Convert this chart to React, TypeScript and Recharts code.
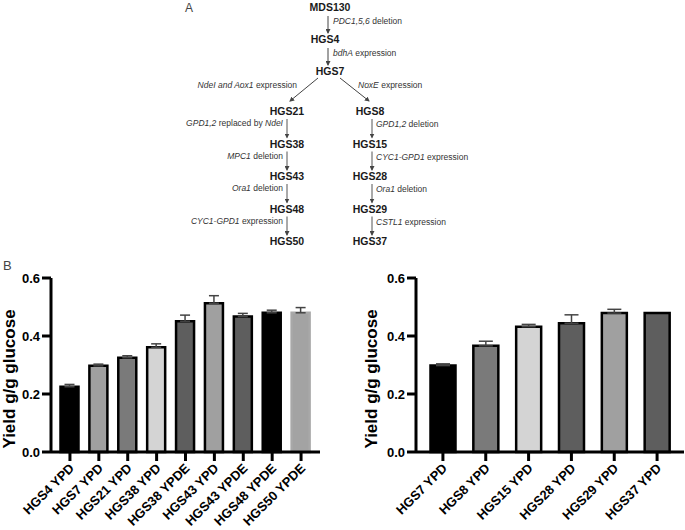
import React from 'react';
import { BarChart, Bar, XAxis, YAxis, Cell, ErrorBar } from 'recharts';

// panel B, left
const leftCats = ['HGS4 YPD', 'HGS7 YPD', 'HGS21 YPD', 'HGS38 YPD', 'HGS38 YPDE', 'HGS43 YPD', 'HGS43 YPDE', 'HGS48 YPDE', 'HGS50 YPDE'];
const leftYield = [0.225, 0.297, 0.325, 0.361, 0.451, 0.513, 0.467, 0.48, 0.48];
const leftErr = [0.008, 0.006, 0.007, 0.012, 0.021, 0.026, 0.011, 0.009, 0.018];
const leftFill = ['#000000', '#a0a0a0', '#7a7a7a', '#d4d4d4', '#5e5e5e', '#a0a0a0', '#5e5e5e', '#000000', '#a3a3a3'];
const leftStroke = ['#000', '#000', '#000', '#000', '#000', '#000', '#000', '#000', '#a8a8a8'];

// panel B, right
const rightCats = ['HGS7 YPD', 'HGS8 YPD', 'HGS15 YPD', 'HGS28 YPD', 'HGS29 YPD', 'HGS37 YPD'];
const rightYield = [0.298, 0.366, 0.432, 0.444, 0.479, 0.479];
const rightErr = [0.006, 0.016, 0.008, 0.029, 0.013, 0];
const rightFill = ['#000000', '#7a7a7a', '#d4d4d4', '#5e5e5e', '#a0a0a0', '#5e5e5e'];

const yTicks = [0, 0.2, 0.4, 0.6];

// panel A, strain lineage
const topChain = ['MDS130', 'HGS4', 'HGS7'];
const topMods = [
  [['PDC1,5,6', true], [' deletion', false]],
  [['bdhA', true], [' expression', false]],
];
const branchMods = [
  [['NdeI and Aox1', true], [' expression', false]],
  [['NoxE', true], [' expression', false]],
];
const leftChain = ['HGS21', 'HGS38', 'HGS43', 'HGS48', 'HGS50'];
const leftMods = [
  [['GPD1,2', true], [' replaced by ', false], ['NdeI', true]],
  [['MPC1', true], [' deletion', false]],
  [['Ora1', true], [' deletion', false]],
  [['CYC1-GPD1', true], [' expression', false]],
];
const rightChain = ['HGS8', 'HGS15', 'HGS28', 'HGS29', 'HGS37'];
const rightMods = [
  [['GPD1,2', true], [' deletion', false]],
  [['CYC1-GPD1', true], [' expression', false]],
  [['Ora1', true], [' deletion', false]],
  [['CSTL1', true], [' expression', false]],
];

const FONT = '"Liberation Sans", Arial, sans-serif';

function Mod({ parts, x, y, anchor }: any) {
  return (
    <text x={x} y={y} textAnchor={anchor} fontSize={8.5} fill="#333" fontFamily={FONT}>
      {parts.map((p: any, i: number) => (
        <tspan key={i} fontStyle={p[1] ? 'italic' : 'normal'}>{p[0]}</tspan>
      ))}
    </text>
  );
}

function Node({ label, x, y }: any) {
  return (
    <text x={x} y={y} textAnchor="middle" fontSize={10.5} fontWeight="bold" fill="#1a1a1a" fontFamily={FONT}>
      {label}
    </text>
  );
}

function Lineage() {
  const topX = 330;
  const topY = (i: number) => 11 + i * 32;
  const colY = (i: number) => 115 + i * 32.5;
  const lx = 287;
  const rx = 371;
  return (
    <svg width={685} height={250} style={{ position: 'absolute', left: 0, top: 0 }}>
      <defs>
        <marker id="ah" markerWidth="5" markerHeight="5" refX="4" refY="2.5" orient="auto" markerUnits="userSpaceOnUse">
          <path d="M0,0 L5,2.5 L0,5 z" fill="#444" />
        </marker>
      </defs>
      <text x={185} y={12} fontSize={12} fill="#444" fontFamily={FONT}>A</text>
      {topChain.map((s, i) => <Node key={s} label={s} x={topX + (i === 1 ? -5 : 0)} y={topY(i)} />)}
      {topMods.map((m, i) => (
        <g key={i}>
          <line x1={topX - 2} y1={topY(i) + 5} x2={topX - 2} y2={topY(i + 1) - 10} stroke="#444" strokeWidth={1} markerEnd="url(#ah)" />
          <Mod parts={m} x={topX + 3} y={topY(i) + 13} anchor="start" />
        </g>
      ))}
      <line x1={topX - 12} y1={78} x2={lx + 3} y2={101} stroke="#444" strokeWidth={1} markerEnd="url(#ah)" />
      <line x1={topX + 10} y1={78} x2={rx - 2} y2={101} stroke="#444" strokeWidth={1} markerEnd="url(#ah)" />
      <Mod parts={branchMods[0]} x={297} y={88} anchor="end" />
      <Mod parts={branchMods[1]} x={358} y={88} anchor="start" />
      {leftChain.map((s, i) => <Node key={s} label={s} x={lx} y={colY(i)} />)}
      {leftMods.map((m, i) => (
        <g key={i}>
          <line x1={lx} y1={colY(i) + 4} x2={lx} y2={colY(i + 1) - 10} stroke="#555" strokeWidth={1} markerEnd="url(#ah)" />
          <Mod parts={m} x={lx - 4} y={colY(i) + 11} anchor="end" />
        </g>
      ))}
      {rightChain.map((s, i) => <Node key={s} label={s} x={rx - 1} y={colY(i)} />)}
      {rightMods.map((m, i) => (
        <g key={i}>
          <line x1={rx + 1} y1={colY(i) + 4} x2={rx + 1} y2={colY(i + 1) - 10} stroke="#555" strokeWidth={1} markerEnd="url(#ah)" />
          <Mod parts={m} x={rx + 5} y={colY(i) + 12} anchor="start" />
        </g>
      ))}
    </svg>
  );
}

function AngledTick(props: any) {
  const { x, y, payload } = props;
  return (
    <g transform={`translate(${x + 5},${y + 6})`}>
      <text x={0} y={0} transform="rotate(-45)" textAnchor="end" fontSize={13} fontWeight="bold" fill="#000" fontFamily={FONT}>
        {payload.value}
      </text>
    </g>
  );
}

function YieldChart({ cats, vals, errs, fills, strokes, width, axisW, labelX, barSize, capW, pad, right }: any) {
  const data = cats.map((c: string, i: number) => ({
    name: c,
    value: vals[i],
    err: errs[i] > 0 ? [0, errs[i]] : null,
  }));
  const axisStyle = { stroke: '#000', strokeWidth: 3 };
  return (
    <BarChart width={width} height={280} data={data} margin={{ top: 28, right, bottom: 0, left: 0 }}>
      <XAxis
        dataKey="name"
        interval={0}
        height={78}
        tickSize={9}
        axisLine={axisStyle}
        tickLine={axisStyle}
        tick={<AngledTick />}
        padding={{ left: pad, right: pad }}
      />
      <YAxis
        domain={[0, 0.6]}
        ticks={yTicks}
        tickFormatter={(v: number) => v.toFixed(1)}
        width={axisW}
        tickSize={9}
        axisLine={axisStyle}
        tickLine={axisStyle}
        tick={{ fill: '#000', fontSize: 13, fontWeight: 'bold', fontFamily: FONT }}
        label={{
          content: (p: any) => {
            const vb = p.viewBox || { y: 28, height: 174 };
            const cy = vb.y + vb.height / 2 + 14;
            return (
              <text x={labelX} y={cy} transform={`rotate(-90 ${labelX} ${cy})`} textAnchor="middle" dominantBaseline="central" fontSize={17} fontWeight="bold" fill="#000" fontFamily={FONT}>
                Yield g/g glucose
              </text>
            );
          },
        }}
      />
      <Bar dataKey="value" barSize={barSize} isAnimationActive={false}>
        {data.map((d: any, i: number) => (
          <Cell key={d.name} fill={fills[i]} stroke={strokes ? strokes[i] : '#000'} strokeWidth={2.5} />
        ))}
        <ErrorBar dataKey="err" width={capW} stroke="#444" strokeWidth={1.5} direction="y" isAnimationActive={false} />
      </Bar>
    </BarChart>
  );
}

export default function App() {
  return (
    <div style={{ position: 'absolute', left: 0, top: 0, width: 685, height: 530, background: '#fff', overflow: 'hidden', fontFamily: FONT }}>
      <Lineage />
      <div style={{ position: 'absolute', left: 3, top: 258, fontSize: 13, color: '#444' }}>B</div>
      <div style={{ position: 'absolute', left: 0, top: 250 }}>
        <YieldChart cats={leftCats} vals={leftYield} errs={leftErr} fills={leftFill} strokes={leftStroke}
          width={330} axisW={51} labelX={9} barSize={18} capW={5} pad={4.5} right={10} />
      </div>
      <div style={{ position: 'absolute', left: 340, top: 250 }}>
        <YieldChart cats={rightCats} vals={rightYield} errs={rightErr} fills={rightFill}
          width={345} axisW={76} labelX={31} barSize={25} capW={7} pad={5.5} right={1} />
      </div>
    </div>
  );
}
